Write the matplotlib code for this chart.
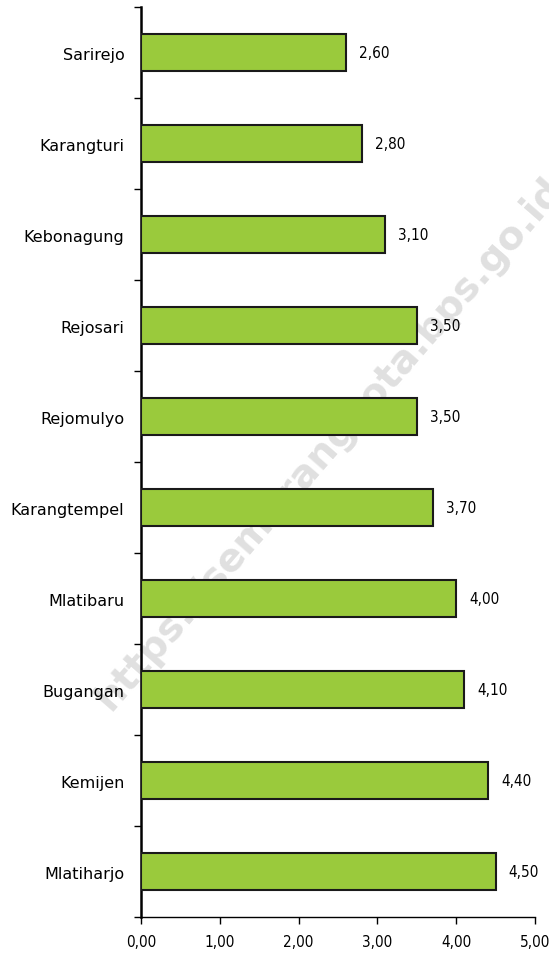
import matplotlib
matplotlib.use("Agg")
import matplotlib.pyplot as plt

categories = ["Sarirejo", "Karangturi", "Kebonagung", "Rejosari", "Rejomulyo",
              "Karangtempel", "Mlatibaru", "Bugangan", "Kemijen", "Mlatiharjo"]
values = [2.60, 2.80, 3.10, 3.50, 3.50, 3.70, 4.00, 4.10, 4.40, 4.50]
xticks = [0, 1, 2, 3, 4, 5]
xticklabels = ["0,00", "1,00", "2,00", "3,00", "4,00", "5,00"]

num_font = dict(family="DejaVu Sans", stretch="condensed", size=11)

fig = plt.figure(figsize=(5.49, 9.54), dpi=100)
ax = fig.add_axes([0.2568, 0.0377, 0.7177, 0.9539])
ax.patch.set_alpha(0)

n = len(categories)
ypos = list(range(n))
ax.barh(ypos, values, height=0.4, color="#9ACA3C", edgecolor="#1a1a1a", linewidth=1.5, zorder=3)
ax.set_ylim(n - 0.5, -0.5)
ax.set_xlim(0, 5)

ax.set_yticks(ypos)
ax.set_yticklabels(categories, fontsize=11.5, family="DejaVu Sans")
ax.set_yticks([i - 0.5 for i in range(n + 1)], minor=True)
ax.tick_params(axis="y", which="major", length=0, pad=12)
ax.tick_params(axis="y", which="minor", length=5, width=1, direction="out")

ax.set_xticks(xticks)
ax.set_xticklabels(xticklabels, **num_font)
ax.tick_params(axis="x", length=5, width=1, direction="out", pad=7)

for s in ["top", "right"]:
    ax.spines[s].set_visible(False)
ax.spines["left"].set_linewidth(1.8)
ax.spines["bottom"].set_linewidth(1.0)

for y, v in zip(ypos, values):
    ax.annotate(f"{v:.2f}".replace(".", ","), xy=(v, y), xytext=(9.5, 0),
                textcoords="offset points", va="center", ha="left",
                zorder=4, **num_font)

fig.text(0.60, 0.535, "https://semarangkota.bps.go.id", rotation=49,
         ha="center", va="center", fontsize=28, fontweight="bold",
         color="#e0e0e0", family="DejaVu Sans", zorder=-1)

fig.savefig("out.png", dpi=100)
